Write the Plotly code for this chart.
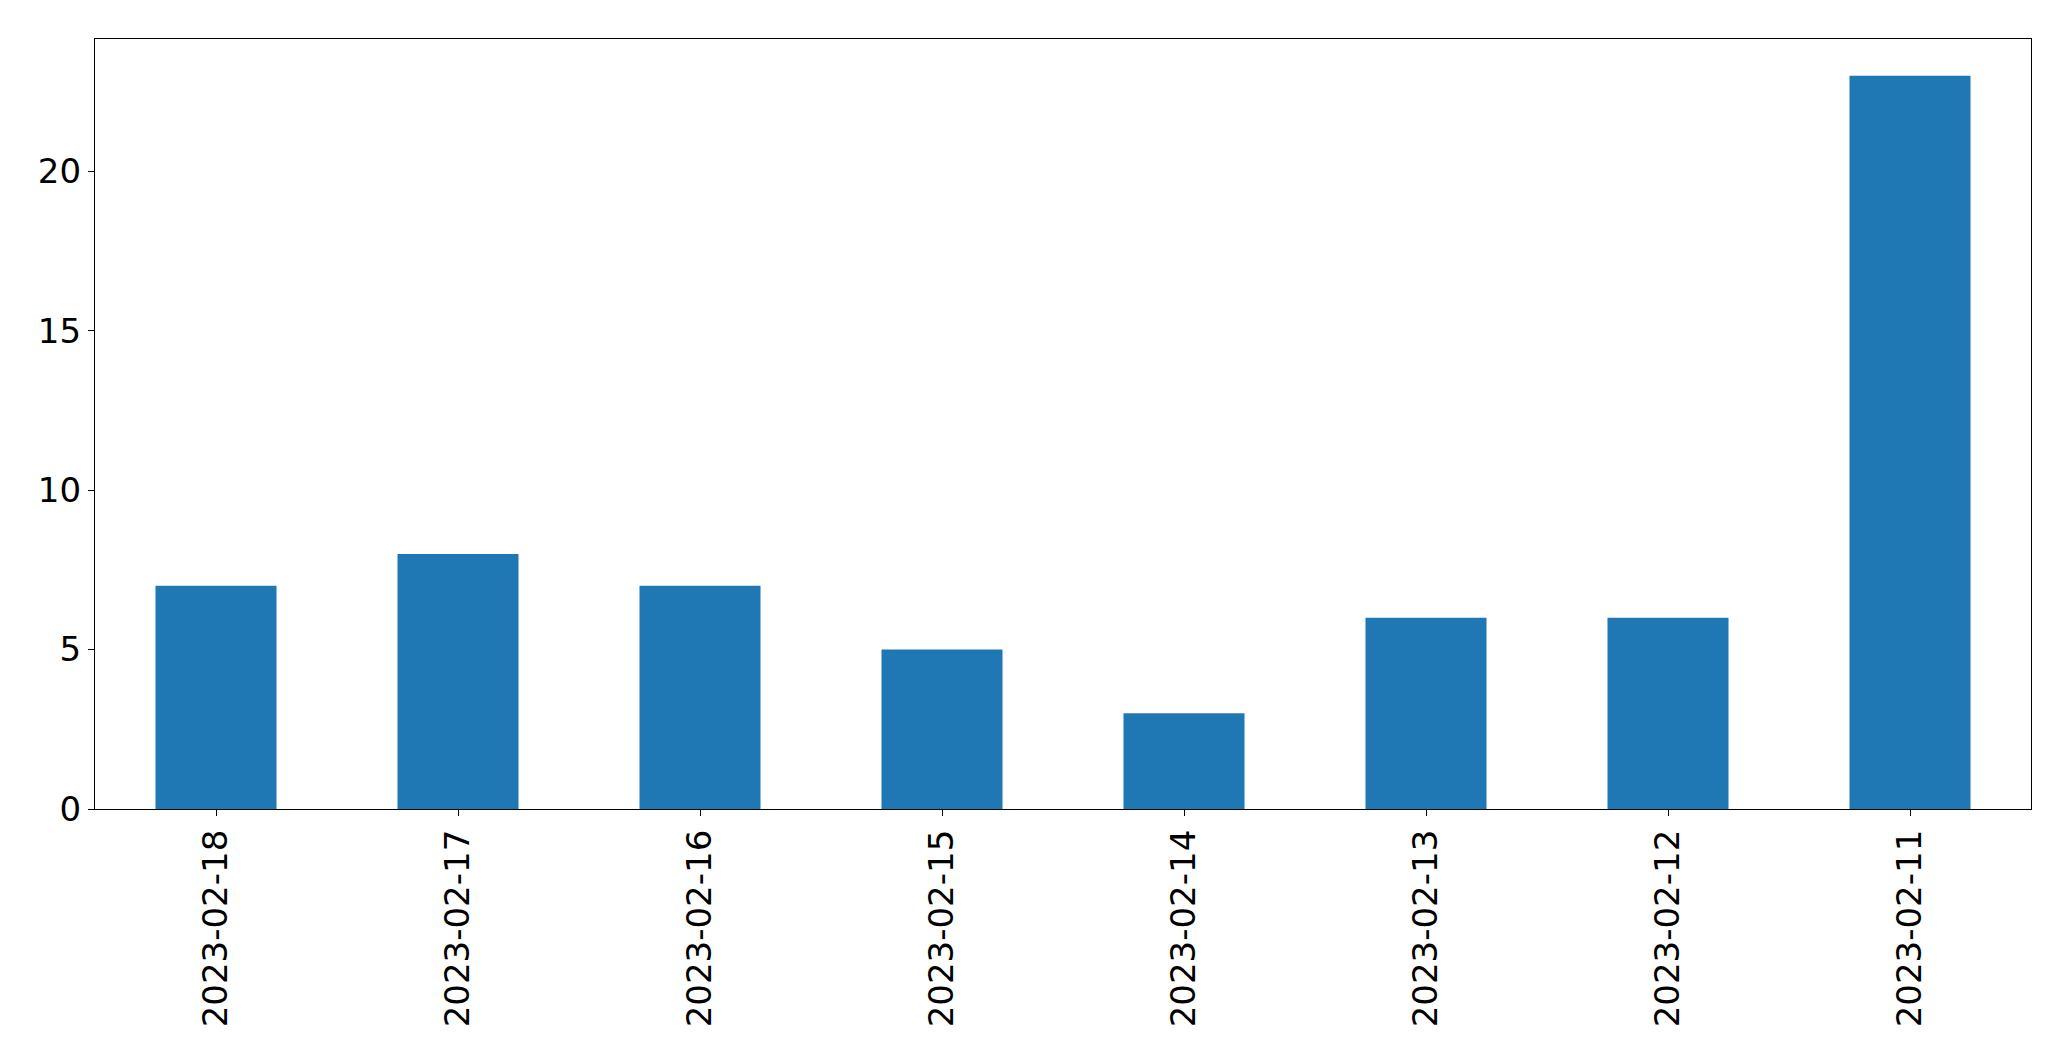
import plotly.graph_objects as go

dates = ["2023-02-18", "2023-02-17", "2023-02-16", "2023-02-15",
         "2023-02-14", "2023-02-13", "2023-02-12", "2023-02-11"]
counts = [7, 8, 7, 5, 3, 6, 6, 23]
y_ticks = [0, 5, 10, 15, 20]

fig = go.Figure(go.Bar(x=list(range(len(dates))), y=counts, width=0.5,
                       marker=dict(color="#1f77b4", line=dict(width=0))))

fig.update_layout(
    width=2071, height=1061,
    margin=dict(l=95, r=40, t=39, b=252, autoexpand=False),
    plot_bgcolor="white", paper_bgcolor="white",
    font=dict(family="DejaVu Sans", size=34, color="black"),
    showlegend=False,
)
fig.update_xaxes(
    range=[-0.5, len(dates) - 0.5],
    tickmode="array", tickvals=list(range(len(dates))), ticktext=dates,
    tickangle=-90, ticks="outside", ticklen=6, tickwidth=1.3, tickcolor="black",
    showline=True, linecolor="black", linewidth=1.3, mirror=True,
    showgrid=False, zeroline=False,
)
fig.update_yaxes(
    range=[0, max(counts) * 1.05],
    tickmode="array", tickvals=y_ticks,
    ticks="outside", ticklen=6, tickwidth=1.3, tickcolor="black",
    showline=True, linecolor="black", linewidth=1.3, mirror=True,
    showgrid=False, zeroline=False,
)

fig.write_html("out.html", config={"displayModeBar": False},
               post_script="document.body.style.margin='0';document.body.style.overflow='hidden';")
